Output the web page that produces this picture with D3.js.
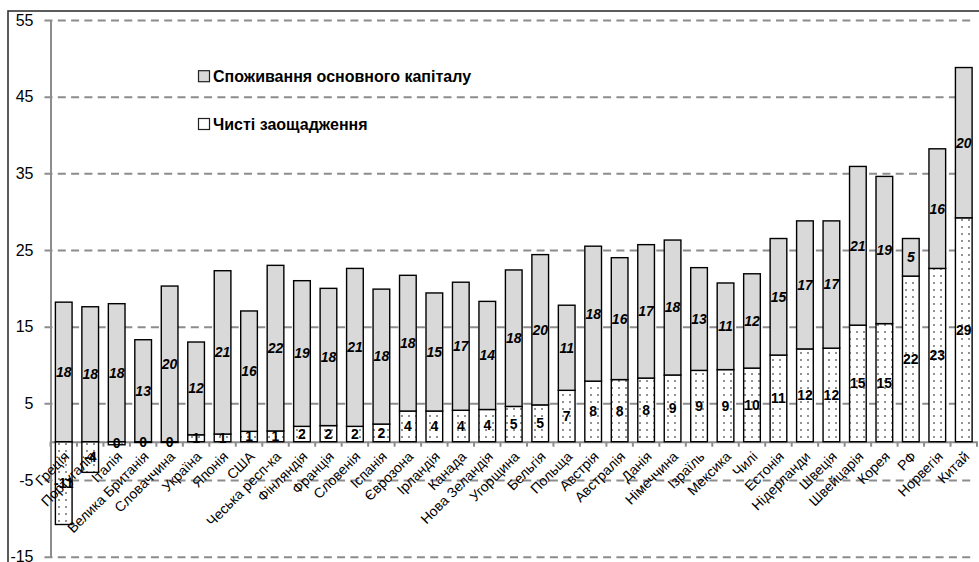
<!DOCTYPE html>
<html>
<head>
<meta charset="utf-8">
<script src="https://cdn.jsdelivr.net/npm/d3@7"></script>
<style>
  body { margin: 0; background: #fff; }
  text { font-family: "Liberation Sans", Arial, sans-serif; }
</style>
</head>
<body>
<svg id="chart" width="979" height="562"></svg>
<script>
// Gross saving split, % of GDP
const categories = ["Греція","Португалія","Італія","Велика Британія","Словаччина","Україна","Японія","США",
  "Чеська респ-ка","Фінляндія","Франція","Словенія","Іспанія","Єврозона","Ірландія","Канада","Нова Зеландія",
  "Угорщина","Бельгія","Польща","Австрія","Австралія","Данія","Німеччина","Ізраїль","Мексика","Чилі","Естонія",
  "Нідерланди","Швеція","Швейцарія","Корея","РФ","Норвегія","Китай"];
const netSavings = [-10.8,-4.0,-0.4,-0.1,-0.1,0.9,1.0,1.35,1.4,2.0,2.1,2.0,2.3,4.0,4.0,4.1,4.2,
  4.6,4.8,6.7,7.9,8.1,8.3,8.7,9.3,9.4,9.6,11.3,12.1,12.2,15.2,15.4,21.6,22.6,29.2];
const capitalConsumption = [18.2,17.6,18.0,13.3,20.3,12.1,21.3,15.7,21.6,19.0,17.9,20.6,17.6,17.7,15.4,16.7,14.1,
  17.8,19.6,11.1,17.6,15.9,17.4,17.6,13.4,11.3,12.3,15.2,16.7,16.6,20.7,19.2,4.9,15.6,19.6];
const yTicks = [-15,-5,5,15,25,35,45,55];
const legendLabels = ["Споживання основного капіталу","Чисті заощадження"];
const seriesKeys = ["savings","consumption"];

const svg = d3.select("#chart");
const gray = "#8c8c8c";

const rows = categories.map((c, i) => ({ name: c, savings: netSavings[i], consumption: capitalConsumption[i] }));
const stacked = d3.stack().keys(seriesKeys).offset(d3.stackOffsetDiverging)(rows);

const x = d3.scaleBand().domain(categories).range([50.5, 977]).paddingInner(0.37).paddingOuter(0.185);
const y = d3.scaleLinear().domain([-15, 55]).range([556.7, 20]);

// plain hyphen minus, no "−"
const fmt = v => String(Math.round(v) || 0);

// dotted fill for net savings
const defs = svg.append("defs");
const pat = defs.append("pattern").attr("id", "dots").attr("patternUnits", "userSpaceOnUse")
  .attr("width", 7).attr("height", 7);
pat.append("rect").attr("width", 7).attr("height", 7).attr("fill", "#fff");
pat.append("circle").attr("cx", 3).attr("cy", 3).attr("r", 1).attr("fill", "#6e6e6e");

// outer frame
svg.append("rect").attr("x", 8).attr("y", 11).attr("width", 1000).attr("height", 600)
  .attr("fill", "none").attr("stroke", "#333").attr("stroke-width", 1.6);

// y axis with dashed gridlines
const yAxis = svg.append("g").attr("transform", "translate(50.5,0)")
  .call(d3.axisLeft(y).tickValues(yTicks).tickFormat(d => String(d))
    .tickSizeInner(-(975 - 50.5)).tickSizeOuter(0).tickPadding(17));
yAxis.select(".domain").attr("stroke", gray).attr("stroke-width", 2);
yAxis.selectAll(".tick line").attr("x1", -6).attr("stroke", gray).attr("stroke-width", 2)
  .attr("stroke-dasharray", "8,5.3");
yAxis.selectAll(".tick text").attr("font-size", 16).attr("fill", "#000");

// x axis at zero
const step = x.step();
const boundaries = categories.map(c => x(c) - step * 0.185)
  .concat([x(categories[categories.length - 1]) + x.bandwidth() + step * 0.185]);
const xAxis = svg.append("g").attr("transform", `translate(0,${y(0)})`)
  .call(d3.axisBottom(x).tickSize(0).tickFormat(""));
xAxis.select(".domain").attr("stroke", gray).attr("stroke-width", 2);
xAxis.selectAll(".xtick").data(boundaries).enter().append("line").attr("class", "xtick")
  .attr("x1", d => d).attr("x2", d => d).attr("y1", 0).attr("y2", 5)
  .attr("stroke", gray).attr("stroke-width", 2);

// bars
const fills = { savings: "url(#dots)", consumption: "#d9d9d9" };
svg.append("g").selectAll("g").data(stacked).enter().append("g")
  .attr("fill", d => fills[d.key])
  .selectAll("rect").data(d => d).enter().append("rect")
  .attr("x", d => x(d.data.name))
  .attr("width", x.bandwidth())
  .attr("y", d => y(Math.max(d[0], d[1])))
  .attr("height", d => Math.abs(y(d[0]) - y(d[1])))
  .attr("stroke", "#000").attr("stroke-width", 1.4);

// category labels
svg.append("g").selectAll("text").data(categories).enter().append("text")
  .attr("transform", d => `translate(${x(d) + x.bandwidth() / 2 + 3},454) rotate(-45)`)
  .attr("text-anchor", "end").attr("dy", "0.35em").attr("font-size", 14).attr("fill", "#000")
  .text(d => d);

// value labels
const labelG = svg.append("g");
stacked.forEach(s => {
  labelG.selectAll(null).data(s).enter().append("text")
    .attr("x", d => x(d.data.name) + x.bandwidth() / 2)
    .attr("y", d => y((d[0] + d[1]) / 2))
    .attr("dy", "0.35em").attr("text-anchor", "middle")
    .attr("font-size", 14).attr("font-weight", "bold")
    .attr("font-style", s.key === "consumption" ? "italic" : "normal")
    .text(d => fmt(d.data[s.key]));
});

// legend
const legend = svg.append("g");
const legendY = [70.7, 118.5];
legendLabels.forEach((t, i) => {
  legend.append("rect").attr("x", 198.5).attr("y", legendY[i]).attr("width", 11).attr("height", 11)
    .attr("fill", i === 0 ? "#d9d9d9" : "#fff").attr("stroke", "#222").attr("stroke-width", 1.2);
  legend.append("text").attr("x", 213).attr("y", legendY[i] + 11.5)
    .attr("font-size", 16).attr("font-weight", "bold").text(t);
});
</script>
</body>
</html>
